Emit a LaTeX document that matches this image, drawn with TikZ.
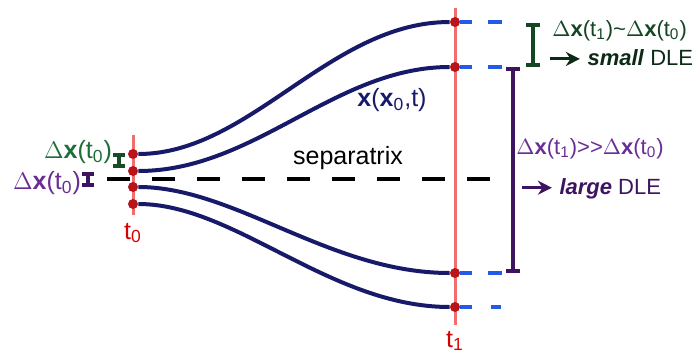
\documentclass[tikz,border=0pt]{standalone}
\usepackage{fontspec}
\setmainfont{Liberation Sans}
\usepackage{xcolor}
\usetikzlibrary{arrows.meta}
\definecolor{curveNavy}{RGB}{22,26,105}
\definecolor{timeRed}{RGB}{240,110,110}
\definecolor{dotRed}{RGB}{185,20,25}
\definecolor{tailBlue}{RGB}{35,90,230}
\definecolor{smallGreen}{RGB}{20,70,35}
\definecolor{leftGreen}{RGB}{30,110,55}
\definecolor{largePurple}{RGB}{105,45,150}
\definecolor{barPurple}{RGB}{60,20,95}
\newcommand{\DLEArrow}{%
\begin{tikzpicture}[baseline=-0.6ex]
  \draw[-{Stealth[length=7pt,width=7pt]},line width=1.5pt] (0,0) -- (15pt,0);
\end{tikzpicture}}
\newcommand{\DX}[1]{$\Delta$\textbf{x}(t\textsubscript{#1})}

\begin{document}
\begin{tikzpicture}[x=0.5pt,y=-0.5pt,
  every node/.style={font=\fontsize{12.5}{14}\selectfont,inner sep=1pt},
  dletext/.style={font=\fontsize{11}{13}\selectfont,anchor=west},
  traj/.style={curveNavy,line width=2pt},
  timeline/.style={timeRed,line width=1.5pt},
  enddot/.style={circle,fill=dotRed,inner sep=0pt,minimum size=5pt},
  tail/.style={tailBlue,line width=1.6pt},
  ibar/.style={line width=2pt,{Bar[width=7pt]}-{Bar[width=7pt]}}]
\useasboundingbox (0,0) rectangle (695,354);
% time lines
\draw[timeline] (133,135) -- (133,215);
\draw[timeline] (455,8) -- (455,325);
\node[red!85!black] (lt0) at (133,233) {t\textsubscript{0}};
\node[red!85!black] (lt1) at (455,341) {t\textsubscript{1}};
% separatrix
\draw[line width=2pt,dash pattern=on 11.5pt off 11pt] (107,179) -- (500,179);
\node (sep) at (348,158) {separatrix};
% end points
\foreach \n/\ya/\yb in {a/154/22, b/171/67, c/187/273, d/204/307} {
  \node[enddot] (s\n) at (133,\ya) {};
  \node[enddot] (e\n) at (455,\yb) {};
  \coordinate (f\n) at (472,\yb);
}
\draw[traj] (sa) .. controls (250,154) and (330,22) .. (ea);
\draw[traj] (sb) .. controls (255,171) and (335,67) .. (eb);
\draw[traj] (sc) .. controls (235,187) and (330,273) .. (ec);
\draw[traj] (sd) .. controls (235,204) and (330,307) .. (ed);
\node[curveNavy] (xlab) at (392,100) {\textbf{x}(\textbf{x}\textsubscript{0},t)};
% blue continuations
\foreach \n in {a,b,c,d}
  \draw[tail] (e\n) -- (f\n);
\draw[tail] (488,22) -- (502,22);
\draw[tail] (488,67) -- (502,67);
\draw[tail] (488,273) -- (502,273);
\draw[tail] (491,307) -- (501,307);
% small separation
\draw[ibar,smallGreen] (533,23) -- (533,67);
\node[dletext,smallGreen] (dxs) at (550,31) {\DX{1}\textasciitilde\DX{0}};
\node[dletext,smallGreen!60!black] (sdle) at (546,58) {\DLEArrow\ \textbf{\textit{small}} DLE};
% large separation
\draw[ibar,barPurple] (513,67) -- (513,273);
\node[dletext,largePurple] (dxl) at (514,149) {\DX{1}>{}>\DX{0}};
\node[dletext,barPurple] (ldle) at (518,189) {\DLEArrow\ \textbf{\textit{large}} DLE};
% initial separations
\draw[ibar,leftGreen!70!black,{Bar[width=6pt]}-{Bar[width=6pt]}] (119,153) -- (119,168);
\node[leftGreen] (dx0g) at (78,152) {\DX{0}};
\draw[ibar,barPurple,{Bar[width=6pt]}-{Bar[width=6pt]}] (88,172) -- (88,187);
\node[largePurple] (dx0p) at (47,183) {\DX{0}};
\end{tikzpicture}
\end{document}
